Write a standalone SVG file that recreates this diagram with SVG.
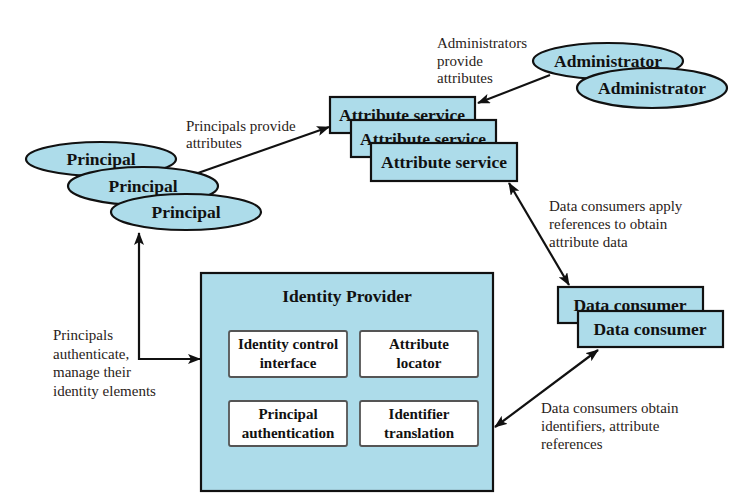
<svg xmlns="http://www.w3.org/2000/svg" width="746" height="503" viewBox="0 0 746 503">
<defs>
<marker id="arr" viewBox="0 0 13 10" refX="12" refY="5" markerWidth="13" markerHeight="10" markerUnits="userSpaceOnUse" orient="auto-start-reverse">
<path d="M0,0 L13,5 L0,10 L3,5 Z" fill="#111"/>
</marker>
</defs>
<style>
.node{fill:#addcea;stroke:#111;stroke-width:2.2}
.inner{fill:#fff;stroke:#555;stroke-width:1.8}
text{font-family:'Liberation Serif','Times New Roman',serif}
.nt{font-weight:bold;font-size:17.5px;fill:#111;text-anchor:middle}
.it{font-weight:bold;font-size:15px;fill:#111;text-anchor:middle}
.lb{font-size:15px;fill:#2a2320}
.conn{fill:none;stroke:#111;stroke-width:2.2}
</style>
<rect width="746" height="503" fill="#fff"/>
<g id="administrator1"><ellipse class="node" cx="608" cy="61" rx="75" ry="18"/><text class="nt" x="608" y="67">Administrator</text></g>
<g id="administrator2"><ellipse class="node" cx="652" cy="88" rx="75" ry="20"/><text class="nt" x="652" y="94">Administrator</text></g>
<g id="attribute-service1"><rect class="node" x="330" y="97" width="145" height="36"/><text class="nt" x="402" y="121">Attribute service</text></g>
<g id="attribute-service2"><rect class="node" x="351" y="120" width="145" height="37"/><text class="nt" x="423" y="145">Attribute service</text></g>
<g id="attribute-service3"><rect class="node" x="371" y="143" width="146" height="38"/><text class="nt" x="444" y="168">Attribute service</text></g>
<g id="principal1"><ellipse class="node" cx="101" cy="159" rx="75" ry="17"/><text class="nt" x="101" y="165">Principal</text></g>
<g id="principal2"><ellipse class="node" cx="143" cy="186" rx="75" ry="19"/><text class="nt" x="143" y="192">Principal</text></g>
<g id="principal3"><ellipse class="node" cx="186" cy="212" rx="75" ry="18"/><text class="nt" x="186" y="218">Principal</text></g>
<g id="data-consumer1"><rect class="node" x="558" y="287" width="145" height="36"/><text class="nt" x="630" y="311">Data consumer</text></g>
<g id="data-consumer2"><rect class="node" x="578" y="311" width="145" height="36"/><text class="nt" x="650" y="335">Data consumer</text></g>
<g id="identity-provider">
<rect class="node" x="201" y="273" width="292" height="218"/>
<text class="nt" x="347" y="302">Identity Provider</text>
<g id="identity-control-interface"><rect class="inner" x="229" y="331" width="118" height="46" rx="2"/><text class="it" x="288" y="349">Identity control</text><text class="it" x="288" y="368">interface</text></g>
<g id="attribute-locator"><rect class="inner" x="360" y="331" width="118" height="46" rx="2"/><text class="it" x="419" y="349">Attribute</text><text class="it" x="419" y="368">locator</text></g>
<g id="principal-authentication"><rect class="inner" x="229" y="401" width="118" height="45" rx="2"/><text class="it" x="288" y="419">Principal</text><text class="it" x="288" y="438">authentication</text></g>
<g id="identifier-translation"><rect class="inner" x="360" y="401" width="118" height="45" rx="2"/><text class="it" x="419" y="419">Identifier</text><text class="it" x="419" y="438">translation</text></g>
</g>
<g id="connectors">
<line class="conn" x1="550" y1="75" x2="478" y2="103" marker-end="url(#arr)"/>
<line class="conn" x1="198" y1="173" x2="329" y2="127" marker-end="url(#arr)"/>
<path class="conn" d="M139,233 V359 H200" marker-start="url(#arr)" marker-end="url(#arr)"/>
<line class="conn" x1="509" y1="183" x2="569" y2="285" marker-start="url(#arr)" marker-end="url(#arr)"/>
<line class="conn" x1="598" y1="350" x2="495" y2="427" marker-start="url(#arr)" marker-end="url(#arr)"/>
</g>
<g id="labels">
<text class="lb" x="437" y="48">Administrators</text>
<text class="lb" x="437" y="65.5">provide</text>
<text class="lb" x="437" y="83">attributes</text>
<text class="lb" x="186" y="131">Principals provide</text>
<text class="lb" x="186" y="148">attributes</text>
<text class="lb" x="53" y="340">Principals</text>
<text class="lb" x="53" y="358.5">authenticate,</text>
<text class="lb" x="53" y="377">manage their</text>
<text class="lb" x="53" y="395.5">identity elements</text>
<text class="lb" x="549" y="211">Data consumers apply</text>
<text class="lb" x="549" y="229">references to obtain</text>
<text class="lb" x="549" y="247">attribute data</text>
<text class="lb" x="541" y="413">Data consumers obtain</text>
<text class="lb" x="541" y="431">identifiers, attribute</text>
<text class="lb" x="541" y="449">references</text>
</g>
</svg>
